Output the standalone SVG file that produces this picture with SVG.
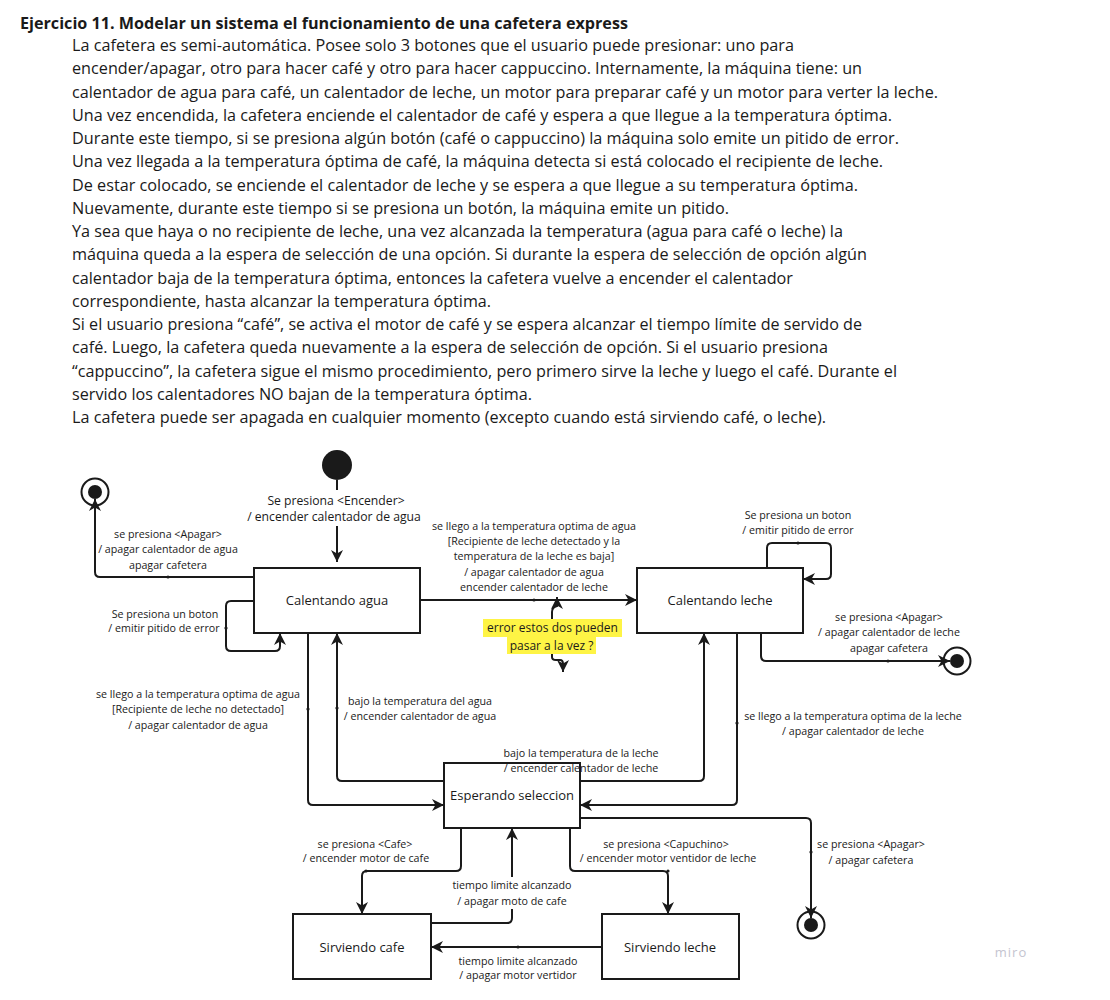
<svg xmlns="http://www.w3.org/2000/svg" width="1110" height="1000" viewBox="0 0 1110 1000">
<style>
  .title{font-family:"Open Sans","Liberation Sans",sans-serif;font-size:16px;font-weight:bold;fill:#1a1a1a}
  .body{font-family:"Open Sans","Liberation Sans",sans-serif;font-size:15.5px;fill:#1a1a1a}
  .state{fill:#ffffff;stroke:#1a1a1a;stroke-width:2}
  .sname{font-family:"Open Sans","Liberation Sans",sans-serif;font-size:13px;fill:#1a1a1a;text-anchor:middle}
  .conn{fill:none;stroke:#1a1a1a;stroke-width:2;marker-end:url(#arr)}
  .lbl{font-family:"Open Sans","Liberation Sans",sans-serif;font-size:10.7px;fill:#1a1a1a;text-anchor:middle}
  .lblL{font-family:"Open Sans","Liberation Sans",sans-serif;font-size:12.2px;fill:#1a1a1a;text-anchor:middle}
  .note{font-family:"Open Sans","Liberation Sans",sans-serif;font-size:12px;fill:#1a1a1a;text-anchor:middle}
  .dot{fill:#1a1a1a}
  .bg{fill:#ffffff}
</style>
<defs>
  <marker id="arr" viewBox="0 0 12 12" refX="12" refY="6" markerWidth="12" markerHeight="12" orient="auto" markerUnits="userSpaceOnUse">
    <path d="M0,0 L12,6 L0,12 L3.5,6 z" fill="#1a1a1a"/>
  </marker>
</defs>
<rect width="1110" height="1000" fill="#ffffff"/>

<g id="statement">
  <text class="title" x="20" y="29" textLength="608" lengthAdjust="spacingAndGlyphs">Ejercicio 11. Modelar un sistema el funcionamiento de una cafetera express</text>
  <text class="body" x="72" y="51" textLength="722" lengthAdjust="spacingAndGlyphs">La cafetera es semi-automática. Posee solo 3 botones que el usuario puede presionar: uno para</text>
  <text class="body" x="72" y="74.25" textLength="790" lengthAdjust="spacingAndGlyphs">encender/apagar, otro para hacer café y otro para hacer cappuccino. Internamente, la máquina tiene: un</text>
  <text class="body" x="72" y="97.5" textLength="866" lengthAdjust="spacingAndGlyphs">calentador de agua para café, un calentador de leche, un motor para preparar café y un motor para verter la leche.</text>
  <text class="body" x="72" y="120.75" textLength="820" lengthAdjust="spacingAndGlyphs">Una vez encendida, la cafetera enciende el calentador de café y espera a que llegue a la temperatura óptima.</text>
  <text class="body" x="72" y="144" textLength="827" lengthAdjust="spacingAndGlyphs">Durante este tiempo, si se presiona algún botón (café o cappuccino) la máquina solo emite un pitido de error.</text>
  <text class="body" x="72" y="167.25" textLength="811" lengthAdjust="spacingAndGlyphs">Una vez llegada a la temperatura óptima de café, la máquina detecta si está colocado el recipiente de leche.</text>
  <text class="body" x="72" y="190.5" textLength="786" lengthAdjust="spacingAndGlyphs">De estar colocado, se enciende el calentador de leche y se espera a que llegue a su temperatura óptima.</text>
  <text class="body" x="72" y="213.75" textLength="657" lengthAdjust="spacingAndGlyphs">Nuevamente, durante este tiempo si se presiona un botón, la máquina emite un pitido.</text>
  <text class="body" x="72" y="237" textLength="771" lengthAdjust="spacingAndGlyphs">Ya sea que haya o no recipiente de leche, una vez alcanzada la temperatura (agua para café o leche) la</text>
  <text class="body" x="72" y="260.25" textLength="795" lengthAdjust="spacingAndGlyphs">máquina queda a la espera de selección de una opción. Si durante la espera de selección de opción algún</text>
  <text class="body" x="72" y="283.5" textLength="721" lengthAdjust="spacingAndGlyphs">calentador baja de la temperatura óptima, entonces la cafetera vuelve a encender el calentador</text>
  <text class="body" x="72" y="306.75" textLength="419" lengthAdjust="spacingAndGlyphs">correspondiente, hasta alcanzar la temperatura óptima.</text>
  <text class="body" x="72" y="330" textLength="790" lengthAdjust="spacingAndGlyphs">Si el usuario presiona “café”, se activa el motor de café y se espera alcanzar el tiempo límite de servido de</text>
  <text class="body" x="72" y="353.25" textLength="756" lengthAdjust="spacingAndGlyphs">café. Luego, la cafetera queda nuevamente a la espera de selección de opción. Si el usuario presiona</text>
  <text class="body" x="72" y="376.5" textLength="825" lengthAdjust="spacingAndGlyphs">“cappuccino”, la cafetera sigue el mismo procedimiento, pero primero sirve la leche y luego el café. Durante el</text>
  <text class="body" x="72" y="399.75" textLength="460" lengthAdjust="spacingAndGlyphs">servido los calentadores NO bajan de la temperatura óptima.</text>
  <text class="body" x="72" y="423" textLength="754" lengthAdjust="spacingAndGlyphs">La cafetera puede ser apagada en cualquier momento (excepto cuando está sirviendo café, o leche).</text>
</g>

<g id="initial">
  <circle cx="337" cy="465" r="15" fill="#1a1a1a"/>
</g>
<g id="final-1">
  <circle cx="95" cy="492" r="13.5" fill="#ffffff" stroke="#1a1a1a" stroke-width="2"/>
  <circle cx="95" cy="492" r="7" fill="#1a1a1a"/>
</g>
<g id="final-2">
  <circle cx="957" cy="661" r="13.5" fill="#ffffff" stroke="#1a1a1a" stroke-width="2"/>
  <circle cx="957" cy="661" r="7" fill="#1a1a1a"/>
</g>
<g id="final-3">
  <circle cx="811" cy="925" r="13.5" fill="#ffffff" stroke="#1a1a1a" stroke-width="2"/>
  <circle cx="811" cy="925" r="7" fill="#1a1a1a"/>
</g>

<g id="calentando-agua">
  <rect class="state" x="254" y="568" width="166" height="65"/>
  <text class="sname" x="337" y="605">Calentando agua</text>
</g>
<g id="calentando-leche">
  <rect class="state" x="637" y="568" width="166" height="65"/>
  <text class="sname" x="720" y="605">Calentando leche</text>
</g>
<g id="esperando-seleccion">
  <rect class="state" x="444" y="763" width="136" height="65"/>
  <text class="sname" x="512" y="800">Esperando seleccion</text>
</g>
<g id="sirviendo-cafe">
  <rect class="state" x="293" y="914" width="138" height="65"/>
  <text class="sname" x="362" y="952">Sirviendo cafe</text>
</g>
<g id="sirviendo-leche">
  <rect class="state" x="602" y="914" width="137" height="65"/>
  <text class="sname" x="670" y="952">Sirviendo leche</text>
</g>

<g id="note">
  <rect x="483" y="619" width="139" height="18" fill="#fef445"/>
  <rect x="507" y="637" width="89" height="17" fill="#fef445"/>
  <text class="note" x="552.5" y="632">error estos dos pueden</text>
  <text class="note" x="551.5" y="650">pasar a la vez ?</text>
</g>

<g id="connectors">
  <path class="conn" d="M337,480 L337,562"/>
  <path class="conn" d="M254,577 L100,577 Q95,577 95,572 L95,499"/>
  <path class="conn" d="M254,601 L231,601 Q226,601 226,606 L226,646 Q226,651 231,651 L275,651 Q280,651 280,646 L280,633"/>
  <path class="conn" d="M420,600 L637,600"/>
  <path class="conn" d="M767,568 L767,548 Q767,543 772,543 L826,543 Q831,543 831,548 L831,574 Q831,579 826,579 L803,579"/>
  <path class="conn" d="M761,633 L761,656 Q761,661 766,661 L950,661"/>
  <path class="conn" d="M308,633 L308,800 Q308,805 313,805 L444,805"/>
  <path class="conn" d="M444,781 L342,781 Q337,781 337,776 L337,633"/>
  <path class="conn" d="M580,781 L699,781 Q704,781 704,776 L704,633"/>
  <path class="conn" d="M737,633 L737,800 Q737,805 732,805 L580,805"/>
  <path class="conn" d="M580,818 L806,818 Q811,818 811,823 L811,918"/>
  <path class="conn" d="M461,828 L461,866 Q461,871 456,871 L367,871 Q362,871 362,876 L362,914"/>
  <path class="conn" d="M431,923 L507,923 Q512,923 512,918 L512,828"/>
  <path class="conn" d="M570,828 L570,866 Q570,871 575,871 L663,871 Q668,871 668,876 L668,914"/>
  <path class="conn" d="M602,947 L431,947"/>
  <path class="conn" d="M552,619 L552,612 Q552,607 557,606 L557,597"/>
  <path class="conn" d="M552,654 L552,657 Q552,660 556,660 L560,660 Q563,660 563,664 L563,672"/>

  <circle class="dot" cx="168" cy="577" r="1.6"/>
  <circle class="dot" cx="226" cy="628" r="1.6"/>
  <circle class="dot" cx="534" cy="600" r="1.6"/>
  <circle class="dot" cx="798" cy="543" r="1.6"/>
  <circle class="dot" cx="888" cy="661" r="1.6"/>
  <circle class="dot" cx="308" cy="709" r="1.6"/>
  <circle class="dot" cx="337" cy="708" r="1.6"/>
  <circle class="dot" cx="737" cy="723" r="1.6"/>
  <circle class="dot" cx="811" cy="852" r="1.6"/>
  <circle class="dot" cx="366" cy="871" r="1.6"/>
  <circle class="dot" cx="668" cy="871" r="1.6"/>
  <circle class="dot" cx="518" cy="947" r="1.6"/>

  <rect class="bg" x="262" y="490" width="150" height="36"/>
  <text class="lblL" x="336" y="505">Se presiona &lt;Encender&gt;</text>
  <text class="lblL" x="334" y="521">/ encender calentador de agua</text>

  <text class="lbl" x="168" y="538">se presiona &lt;Apagar&gt;</text>
  <text class="lbl" x="168" y="553">/ apagar calentador de agua</text>
  <text class="lbl" x="168" y="568.5">apagar cafetera</text>

  <text class="lbl" x="165" y="617.5">Se presiona un boton</text>
  <text class="lbl" x="164" y="632">/ emitir pitido de error</text>

  <text class="lbl" x="534" y="529.5">se llego a la temperatura optima de agua</text>
  <text class="lbl" x="534" y="544.5">[Recipiente de leche detectado y la</text>
  <text class="lbl" x="534" y="560">temperatura de la leche es baja]</text>
  <text class="lbl" x="534" y="575.5">/ apagar calentador de agua</text>
  <text class="lbl" x="534" y="590.5">encender calentador de leche</text>

  <text class="lbl" x="798" y="518.5">Se presiona un boton</text>
  <text class="lbl" x="798" y="533.5">/ emitir pitido de error</text>

  <text class="lbl" x="889" y="620.5">se presiona &lt;Apagar&gt;</text>
  <text class="lbl" x="889" y="635.5">/ apagar calentador de leche</text>
  <text class="lbl" x="889" y="651.5">apagar cafetera</text>

  <text class="lbl" x="198" y="697.5">se llego a la temperatura optima de agua</text>
  <text class="lbl" x="198" y="712.5">[Recipiente de leche no detectado]</text>
  <text class="lbl" x="198" y="728.5">/ apagar calentador de agua</text>

  <text class="lbl" x="420" y="704.5">bajo la temperatura del agua</text>
  <text class="lbl" x="420" y="719.5">/ encender calentador de agua</text>

  <text class="lbl" x="581" y="757">bajo la temperatura de la leche</text>
  <text class="lbl" x="581" y="772">/ encender calentador de leche</text>

  <text class="lbl" x="853" y="720">se llego a la temperatura optima de la leche</text>
  <text class="lbl" x="853" y="735">/ apagar calentador de leche</text>

  <text class="lbl" x="871" y="847.5">se presiona &lt;Apagar&gt;</text>
  <text class="lbl" x="871" y="863.5">/ apagar cafetera</text>

  <text class="lbl" x="365" y="847.5">se presiona &lt;Cafe&gt;</text>
  <text class="lbl" x="366" y="861.5">/ encender motor de cafe</text>

  <text class="lbl" x="666" y="847.5">se presiona &lt;Capuchino&gt;</text>
  <text class="lbl" x="668" y="861.5">/ encender motor ventidor de leche</text>

  <rect class="bg" x="450" y="877" width="124" height="32"/>
  <text class="lbl" x="512" y="888.5">tiempo limite alcanzado</text>
  <text class="lbl" x="512" y="904.5">/ apagar moto de cafe</text>

  <text class="lbl" x="518" y="964.5">tiempo limite alcanzado</text>
  <text class="lbl" x="518" y="979">/ apagar motor vertidor</text>
</g>

<text x="1011" y="957" font-family="'Open Sans','Liberation Sans',sans-serif" font-size="13" fill="#c4c4d0" text-anchor="middle" letter-spacing="1">miro</text>
</svg>
